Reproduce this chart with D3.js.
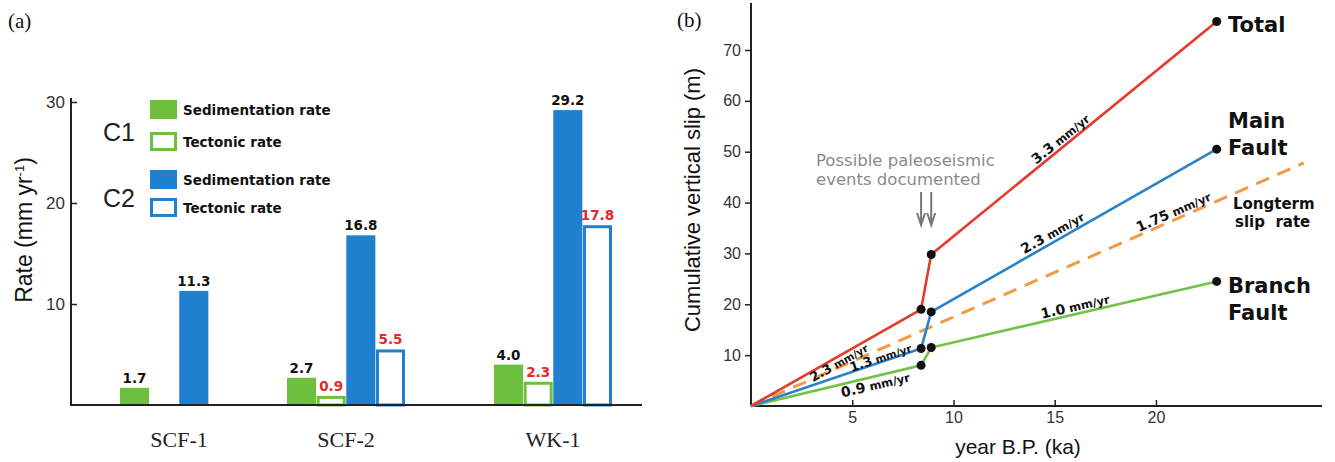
<!DOCTYPE html>
<html>
<head>
<meta charset="utf-8">
<script src="https://cdn.jsdelivr.net/npm/d3@7"></script>
<style>
  body { margin: 0; background: #fff; }
  svg { display: block; }
</style>
</head>
<body>
<div id="chart"></div>
<script>
// ---- panel (a) : rates per site
var sites = ["SCF-1", "SCF-2", "WK-1"];
var seriesKeys = ["sedC1", "tecC1", "sedC2", "tecC2"];
var sedC1 = [1.7, 2.7, 4.0];
var tecC1 = [null, 0.9, 2.3];
var sedC2 = [11.3, 16.8, 29.2];
var tecC2 = [null, 5.5, 17.8];
var rateTicks = [10, 20, 30];
var legendGroups = ["C1", "C2"];
var legendNames = ["Sedimentation rate", "Tectonic rate"];

// ---- panel (b) : cumulative vertical slip
var ageKa = [0, 8.4, 8.9, 23];
var totalSlip = [0, 19, 29.8, 75.6];
var mainSlip = [0, 11.3, 18.5, 50.5];
var branchSlip = [0, 8, 11.5, 24.5];
var longtermAge = [0, 27.3];
var longtermSlip = [0, 47.8];
var totalRates = ["2.3", null, "3.3"];
var mainRates = ["1.3", null, "2.3"];
var branchRates = ["0.9", null, "1.0"];
var longtermRates = ["1.75"];
var ageTicks = [5, 10, 15, 20];
var slipTicks = [10, 20, 30, 40, 50, 60, 70];

var W = 1335, H = 462;
var roundFont = "DejaVu Sans";
var green = "#6fbf3f", blue = "#1f80d0";
var red = "#e63a2c", lineBlue = "#2a82c9", lineGreen = "#72c245", orange = "#f29a45";

var svg = d3.select("#chart").append("svg")
  .attr("width", W).attr("height", H)
  .style("background", "#fff");

// =============== panel (a) ===============
var ga = svg.append("g");
var yA = d3.scaleLinear().domain([0, 30]).range([405, 102]);
var xSite = d3.scaleOrdinal().domain(sites).range([179, 346, 553]);
var xSer = d3.scaleBand().domain(seriesKeys).range([-59, 59]).paddingInner(0.02);

var seriesVals = { sedC1: sedC1, tecC1: tecC1, sedC2: sedC2, tecC2: tecC2 };
var seriesStyle = {
  sedC1: { fill: green, stroke: "none", label: "#111" },
  tecC1: { fill: "#fff", stroke: green, label: "#e8262b" },
  sedC2: { fill: blue, stroke: "none", label: "#111" },
  tecC2: { fill: "#fff", stroke: blue, label: "#e8262b" }
};

var barData = [];
sites.forEach(function (s, i) {
  seriesKeys.forEach(function (k) {
    var v = seriesVals[k][i];
    if (v != null) barData.push({ site: s, key: k, value: v });
  });
});

function outlined(d) { return seriesStyle[d.key].stroke !== "none"; }

ga.selectAll("rect.bar").data(barData).enter().append("rect")
  .attr("class", "bar")
  .attr("x", function (d) { return xSite(d.site) + xSer(d.key) + (outlined(d) ? 1.5 : 0); })
  .attr("width", function (d) { return xSer.bandwidth() - (outlined(d) ? 3 : 0); })
  .attr("y", function (d) { return yA(d.value) + (outlined(d) ? 1.5 : 0); })
  .attr("height", function (d) { return yA(0) - yA(d.value) - (outlined(d) ? 1.5 : 0); })
  .attr("fill", function (d) { return seriesStyle[d.key].fill; })
  .attr("stroke", function (d) { return seriesStyle[d.key].stroke; })
  .attr("stroke-width", 3);

ga.selectAll("text.val").data(barData).enter().append("text")
  .attr("class", "val")
  .attr("x", function (d) { return xSite(d.site) + xSer(d.key) + xSer.bandwidth() / 2; })
  .attr("y", function (d) { return yA(d.value) - 5; })
  .attr("text-anchor", "middle")
  .attr("font-family", roundFont).attr("font-weight", "bold")
  .attr("font-size", 13.5)
  .attr("fill", function (d) { return seriesStyle[d.key].label; })
  .text(function (d) { return d.value.toFixed(1); });

// axes (a)
var axA = ga.append("g").attr("transform", "translate(71,0)")
  .call(d3.axisLeft(yA).tickValues(rateTicks).tickSize(-6).tickPadding(6).tickFormat(d3.format("d")));
axA.select(".domain").remove();
axA.selectAll(".tick line").attr("stroke", "#222").attr("stroke-width", 1.5);
axA.selectAll(".tick text").attr("font-family", "Liberation Sans").attr("font-size", 17).attr("fill", "#333");
ga.append("line").attr("x1", 71).attr("x2", 71).attr("y1", 98).attr("y2", yA(0))
  .attr("stroke", "#222").attr("stroke-width", 2);
ga.append("line").attr("x1", 70).attr("x2", 642).attr("y1", yA(0)).attr("y2", yA(0))
  .attr("stroke", "#222").attr("stroke-width", 2);

ga.selectAll("text.site").data(sites).enter().append("text")
  .attr("class", "site")
  .attr("x", function (d) { return xSite(d); })
  .attr("y", 447)
  .attr("text-anchor", "middle")
  .attr("font-family", "Liberation Serif").attr("font-size", 22).attr("fill", "#222")
  .text(function (d) { return d; });

var yTitleA = ga.append("text")
  .attr("transform", "translate(32,230) rotate(-90)")
  .attr("text-anchor", "middle")
  .attr("font-family", "Liberation Sans").attr("font-size", 23).attr("fill", "#111");
yTitleA.append("tspan").text("Rate (mm yr");
yTitleA.append("tspan").attr("dy", -8).attr("font-size", 13).text("-1");
yTitleA.append("tspan").attr("dy", 8).text(")");

ga.append("text").attr("x", 8).attr("y", 28)
  .attr("font-family", "Liberation Serif").attr("font-size", 21).attr("fill", "#111").text("(a)");

// legend (a)
var legendRows = [
  { n: 0, key: "sedC1", y: 100 },
  { n: 1, key: "tecC1", y: 132 },
  { n: 0, key: "sedC2", y: 170 },
  { n: 1, key: "tecC2", y: 198 }
];
var lg = ga.append("g");
lg.selectAll("rect").data(legendRows).enter().append("rect")
  .attr("x", function (d) { return outlined(d) ? 151.5 : 150; })
  .attr("y", function (d) { return d.y + (outlined(d) ? 1.5 : 0); })
  .attr("width", function (d) { return outlined(d) ? 24 : 27; })
  .attr("height", function (d) { return outlined(d) ? 16 : 19; })
  .attr("fill", function (d) { return seriesStyle[d.key].fill; })
  .attr("stroke", function (d) { return seriesStyle[d.key].stroke; })
  .attr("stroke-width", 3);
lg.selectAll("text.lt").data(legendRows).enter().append("text")
  .attr("class", "lt")
  .attr("x", 183).attr("y", function (d) { return d.y + 15; })
  .attr("font-family", roundFont).attr("font-weight", "bold").attr("font-size", 13.5)
  .attr("fill", "#111")
  .text(function (d) { return legendNames[d.n]; });
lg.selectAll("text.gt").data(legendGroups).enter().append("text")
  .attr("class", "gt")
  .attr("x", 103).attr("y", function (d, i) { return i === 0 ? 141 : 207; })
  .attr("font-family", "Liberation Sans").attr("font-size", 25).attr("fill", "#222")
  .text(function (d) { return d; });

// =============== panel (b) ===============
var gb = svg.append("g");
var xB = d3.scaleLinear().domain([0, 28.2]).range([751, 1322]);
var yB = d3.scaleLinear().domain([0, 70]).range([406, 50]);

var axB = gb.append("g").attr("transform", "translate(751,0)")
  .call(d3.axisLeft(yB).tickValues(slipTicks).tickSize(6).tickPadding(4).tickFormat(d3.format("d")));
axB.select(".domain").remove();
axB.selectAll(".tick line").attr("stroke", "#222").attr("stroke-width", 1.5);
axB.selectAll(".tick text").attr("font-family", "Liberation Sans").attr("font-size", 16).attr("fill", "#333");

var axBx = gb.append("g").attr("transform", "translate(0,406)")
  .call(d3.axisBottom(xB).tickValues(ageTicks).tickSize(-6).tickPadding(6).tickFormat(d3.format("d")));
axBx.select(".domain").remove();
axBx.selectAll(".tick line").attr("stroke", "#222").attr("stroke-width", 1.5);
axBx.selectAll(".tick text").attr("font-family", "Liberation Sans").attr("font-size", 16).attr("fill", "#333");

gb.append("line").attr("x1", 751).attr("x2", 751).attr("y1", 3).attr("y2", 406)
  .attr("stroke", "#222").attr("stroke-width", 2);
gb.append("line").attr("x1", 751).attr("x2", 1322).attr("y1", 406).attr("y2", 406)
  .attr("stroke", "#222").attr("stroke-width", 2);

var line = d3.line().x(function (d) { return xB(d[0]); }).y(function (d) { return yB(d[1]); });
function pts(xs, ys) { return xs.map(function (x, i) { return [x, ys[i]]; }); }

var curves = [
  { name: "longterm", pts: pts(longtermAge, longtermSlip), rates: longtermRates, color: orange, dash: "14,9", dots: [] },
  { name: "branch", pts: pts(ageKa, branchSlip), rates: branchRates, color: lineGreen, dash: null, dots: [1, 2, 3] },
  { name: "main", pts: pts(ageKa, mainSlip), rates: mainRates, color: lineBlue, dash: null, dots: [1, 2, 3] },
  { name: "total", pts: pts(ageKa, totalSlip), rates: totalRates, color: red, dash: null, dots: [1, 2, 3] }
];

gb.selectAll("path.curve").data(curves).enter().append("path")
  .attr("class", "curve")
  .attr("d", function (d) { return line(d.pts); })
  .attr("fill", "none")
  .attr("stroke", function (d) { return d.color; })
  .attr("stroke-width", function (d) { return d.dash ? 3 : 2.6; })
  .attr("stroke-dasharray", function (d) { return d.dash; });

curves.forEach(function (c) {
  gb.selectAll(null).data(c.dots).enter().append("circle")
    .attr("cx", function (i) { return xB(c.pts[i][0]); })
    .attr("cy", function (i) { return yB(c.pts[i][1]); })
    .attr("r", 4.5).attr("fill", "#111");
});

// rate labels along segments: [t along segment, baseline offset, number size]
var rateLabelPlace = {
  total: [[0.5, 10, 13], null, [0.47, -3, 14]],
  main: [[0.77, 0, 13], null, [0.44, -4, 14]],
  branch: [[0.72, 13, 14], null, [0.51, -3, 14]],
  longterm: [[0.77, -3, 14]]
};
curves.forEach(function (c) {
  c.rates.forEach(function (r, i) {
    if (r == null) return;
    var p0 = c.pts[i], p1 = c.pts[i + 1];
    var x0 = xB(p0[0]), y0 = yB(p0[1]), x1 = xB(p1[0]), y1 = yB(p1[1]);
    var pl = rateLabelPlace[c.name][i];
    var ang = Math.atan2(y1 - y0, x1 - x0) * 180 / Math.PI;
    var px = x0 + pl[0] * (x1 - x0), py = y0 + pl[0] * (y1 - y0);
    var t = gb.append("text")
      .attr("transform", "translate(" + px + "," + py + ") rotate(" + ang + ")")
      .attr("y", pl[1])
      .attr("text-anchor", "middle")
      .attr("font-family", roundFont).attr("font-weight", "bold").attr("fill", "#111");
    t.append("tspan").attr("font-size", pl[2]).text(r);
    t.append("tspan").attr("font-size", pl[2] - 2.5).text(" mm/yr");
  });
});

// end labels
var endLabels = [
  { lines: ["Total"], x: 1228, y: 32, size: 21 },
  { lines: ["Main", "Fault"], x: 1228, y: 128, size: 21 },
  { lines: ["Branch", "Fault"], x: 1228, y: 293, size: 21 },
  { lines: ["Longterm", "slip  rate"], x: 1233, y: 209, size: 15 }
];
endLabels.forEach(function (e) {
  var t = gb.append("text")
    .attr("font-family", roundFont).attr("font-weight", "bold")
    .attr("font-size", e.size).attr("fill", "#111");
  e.lines.forEach(function (l, i) {
    t.append("tspan").attr("x", e.x + (e.size < 18 && i ? 2 : 0))
      .attr("y", e.y + i * (e.size < 18 ? 18 : 27)).attr("xml:space", "preserve").text(l);
  });
});

// paleoseismic annotation
var ann = gb.append("text").attr("font-family", roundFont).attr("font-size", 16.5).attr("fill", "#8a8a8a");
ann.append("tspan").attr("x", 816).attr("y", 166).text("Possible paleoseismic");
ann.append("tspan").attr("x", 816).attr("y", 185).text("events documented");

var arrowAges = [ageKa[1], ageKa[2]];
gb.selectAll("path.arrow").data(arrowAges).enter().append("path")
  .attr("class", "arrow")
  .attr("d", function (d) {
    var x = xB(d);
    return "M" + x + ",192 L" + x + ",224 M" + (x - 4) + ",213 L" + x + ",225 L" + (x + 4) + ",213";
  })
  .attr("fill", "none").attr("stroke", "#777").attr("stroke-width", 2);

// axis titles (b)
gb.append("text")
  .attr("transform", "translate(700,200) rotate(-90)")
  .attr("text-anchor", "middle")
  .attr("font-family", "Liberation Sans").attr("font-size", 22).attr("fill", "#111")
  .text("Cumulative vertical slip (m)");
gb.append("text")
  .attr("x", 1018).attr("y", 454)
  .attr("text-anchor", "middle")
  .attr("font-family", "Liberation Sans").attr("font-size", 21).attr("fill", "#111")
  .text("year B.P. (ka)");
gb.append("text").attr("x", 677).attr("y", 27)
  .attr("font-family", "Liberation Serif").attr("font-size", 21).attr("fill", "#111").text("(b)");
</script>
</body>
</html>
